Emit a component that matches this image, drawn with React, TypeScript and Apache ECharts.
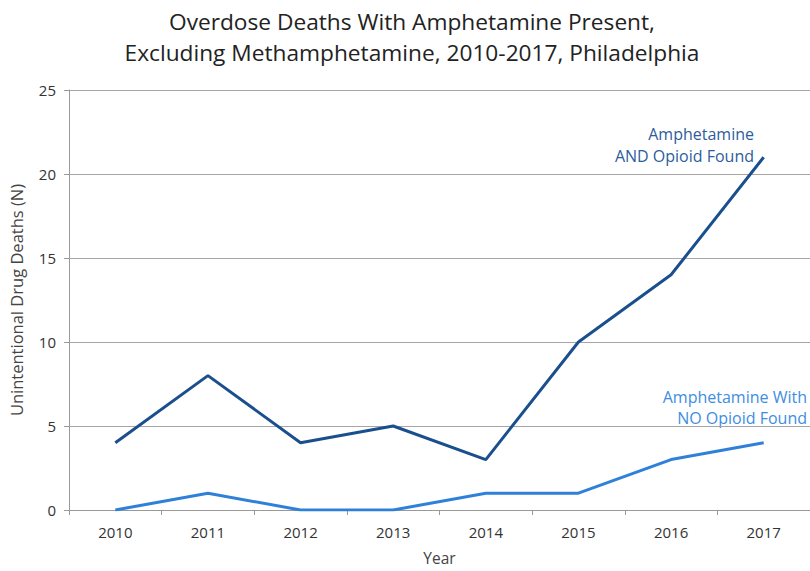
import React, { useEffect, useRef } from "react";
import * as echarts from "echarts";

const years = ["2010", "2011", "2012", "2013", "2014", "2015", "2016", "2017"];
const withOpioid = [4, 8, 4, 5, 3, 10, 14, 21];
const noOpioid = [0, 1, 0, 0, 1, 1, 3, 4];
const titleLines = [
  "Overdose Deaths With Amphetamine Present,",
  "Excluding Methamphetamine, 2010-2017, Philadelphia",
];
const labelWith = "Amphetamine\nAND Opioid Found";
const labelNo = "Amphetamine With\nNO Opioid Found";

const FONT = "'Open Sans', 'Noto Sans', sans-serif";

export default function App() {
  const ref = useRef<HTMLDivElement>(null);
  useEffect(() => {
    if (!ref.current) return;
    const chart = echarts.init(ref.current, undefined, { renderer: "svg" });
    chart.setOption({
      animation: false,
      backgroundColor: "#ffffff",
      title: {
        text: titleLines.join("\n"),
        left: 407,
        textAlign: "center",
        top: 1,
        textStyle: {
          fontFamily: FONT,
          fontSize: 22.7,
          fontWeight: "normal",
          color: "#222",
          lineHeight: 31,
        },
      },
      grid: { left: 68, width: 757, top: 90, height: 429, containLabel: false },
      xAxis: {
        type: "category",
        data: years,
        boundaryGap: true,
        name: "Year",
        nameLocation: "middle",
        nameGap: 40,
        nameTextStyle: { fontFamily: FONT, fontSize: 15.5, color: "#444" },
        axisLine: { show: true, lineStyle: { color: "#999", width: 1 } },
        axisTick: { show: true, alignWithLabel: false, length: 5, lineStyle: { color: "#999" } },
        axisLabel: { fontFamily: FONT, fontSize: 15, color: "#333", margin: 14 },
        splitLine: { show: false },
      },
      yAxis: {
        type: "value",
        min: 0,
        max: 25,
        interval: 5,
        name: "Unintentional Drug Deaths (N)",
        nameLocation: "middle",
        nameGap: 44,
        nameRotate: 90,
        nameTextStyle: { fontFamily: FONT, fontSize: 16.5, color: "#444" },
        axisLine: { show: true, lineStyle: { color: "#999", width: 1 } },
        axisTick: { show: true, length: 5, lineStyle: { color: "#999" } },
        axisLabel: { fontFamily: FONT, fontSize: 15, color: "#333", margin: 13 },
        splitLine: { show: true, lineStyle: { color: "#a6a6a6", width: 1 } },
      },
      series: [
        {
          name: "Amphetamine AND Opioid Found",
          type: "line",
          data: withOpioid,
          symbol: "none",
          lineStyle: { color: "#1a4f8e", width: 3 },
          itemStyle: { color: "#1a4f8e" },
          z: 3,
        },
        {
          name: "Amphetamine With NO Opioid Found",
          type: "line",
          data: noOpioid,
          symbol: "none",
          lineStyle: { color: "#2f80d9", width: 3 },
          itemStyle: { color: "#2f80d9" },
          z: 2,
        },
      ],
      graphic: [
        {
          type: "text",
          x: 754,
          y: 123,
          style: {
            text: labelWith,
            fontFamily: FONT,
            fontSize: 16,
            lineHeight: 22,
            fill: "#2d5d9c",
            align: "right",
            verticalAlign: "top",
          },
        },
        {
          type: "text",
          x: 807,
          y: 386,
          style: {
            text: labelNo,
            fontFamily: FONT,
            fontSize: 16,
            lineHeight: 21,
            fill: "#3d8ee0",
            align: "right",
            verticalAlign: "top",
          },
        },
      ],
    });
    return () => chart.dispose();
  }, []);
  return <div ref={ref} style={{ width: 810, height: 571, position: "absolute", left: 0, top: 0 }} />;
}
